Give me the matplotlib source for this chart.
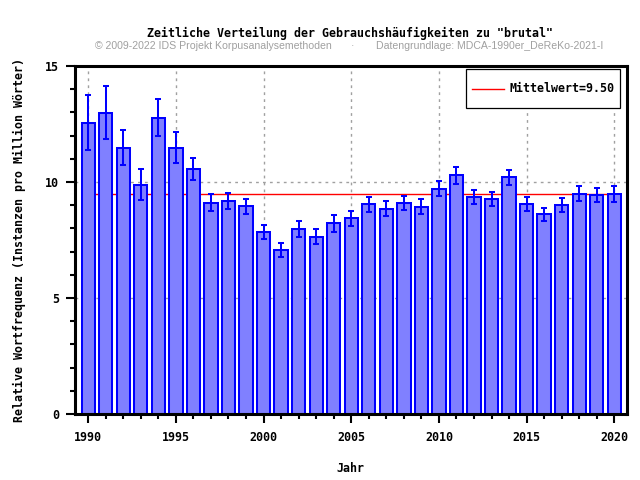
import matplotlib
matplotlib.use("Agg")
import matplotlib.pyplot as plt
from matplotlib.legend_handler import HandlerLine2D
from matplotlib.ticker import MultipleLocator

# Relative Wortfrequenz "brutal" pro Jahr (Instanzen pro Million Wörter)
years = list(range(1990, 2021))
freq = [12.56, 12.99, 11.48, 9.88, 12.77, 11.48, 10.57, 9.11, 9.17, 8.95,
        7.83, 7.08, 7.99, 7.64, 8.22, 8.43, 9.04, 8.85, 9.11, 8.94,
        9.71, 10.29, 9.37, 9.25, 10.20, 9.04, 8.61, 9.00, 9.50, 9.43,
        9.47]
err = [1.19, 1.15, 0.76, 0.67, 0.80, 0.67, 0.48, 0.37, 0.35, 0.33,
       0.30, 0.31, 0.35, 0.32, 0.36, 0.33, 0.33, 0.31, 0.30, 0.31,
       0.33, 0.36, 0.30, 0.30, 0.32, 0.31, 0.29, 0.30, 0.33, 0.30,
       0.35]
mean_value = 9.50

MONO = "DejaVu Sans Mono"
FS = 8.4


class LoweredLine(HandlerLine2D):
    # tall legend box: move the sample line down to the text's middle
    def create_artists(self, legend, orig_handle, xdescent, ydescent,
                       width, height, fontsize, trans):
        arts = super().create_artists(legend, orig_handle, xdescent, ydescent,
                                      width, height, fontsize, trans)
        for a in arts:
            a.set_ydata([y - 0.42 * fontsize for y in a.get_ydata()])
        return arts


fig = plt.figure(figsize=(6.4, 4.8), dpi=100)
ax = fig.add_axes([0.117, 0.1375, 0.862, 0.725])

# Mean line behind the bars
mean_line, = ax.plot([years[0], years[-1]], [mean_value, mean_value], color="#ff0000",
                     linewidth=1.0, zorder=1, label=f"Mittelwert={mean_value:.2f}")

ax.bar(years, freq, width=0.76, color="#8080ff", edgecolor="#0000ff",
       linewidth=1.45, zorder=2)
ax.errorbar(years, freq, yerr=err, fmt="none", ecolor="#0000ff",
            elinewidth=1.45, capsize=2.3, capthick=1.45, zorder=3)

ax.set_xlim(1989.24, 2020.70)
ax.set_ylim(0, 15)
ax.xaxis.set_major_locator(MultipleLocator(5))
ax.xaxis.set_minor_locator(MultipleLocator(1))
ax.yaxis.set_major_locator(MultipleLocator(5))
ax.yaxis.set_minor_locator(MultipleLocator(1))

ax.grid(which="major", color="#a0a0a0", linestyle=(0, (2, 3)), linewidth=1.0, zorder=0)
ax.set_axisbelow(True)

for s in ax.spines.values():
    s.set_linewidth(2.2)
    s.set_color("black")

ax.tick_params(which="major", direction="out", length=6.5, width=1.5)
ax.tick_params(which="minor", direction="out", length=3.5, width=1.5)
ax.tick_params(axis="x", which="major", pad=5.5)
ax.tick_params(axis="y", which="major", pad=5)
for lbl in ax.get_xticklabels() + ax.get_yticklabels():
    lbl.set_fontfamily(MONO)
    lbl.set_fontweight("bold")
    lbl.set_fontsize(FS)

ax.set_xlabel("Jahr", fontfamily=MONO, fontweight="bold", fontsize=FS)
ax.set_ylabel("Relative Wortfrequenz (Instanzen pro Million Wörter)",
              fontfamily=MONO, fontweight="bold", fontsize=FS)
ax.xaxis.set_label_coords(0.5, -0.138)
ax.yaxis.set_label_coords(-0.089, 0.5)

leg = ax.legend(loc="upper right", bbox_to_anchor=(0.989, 0.991),
                prop={"family": MONO, "weight": "bold", "size": FS},
                fancybox=False, framealpha=1, edgecolor="black",
                handlelength=2.74, handletextpad=0.43, handleheight=3.1,
                borderpad=0.55, borderaxespad=0,
                handler_map={mean_line: LoweredLine()})
leg.get_frame().set_linewidth(0.9)

fig.text(0.547, 0.931, 'Zeitliche Verteilung der Gebrauchshäufigkeiten zu "brutal"',
         ha="center", va="center", fontfamily=MONO, fontweight="bold", fontsize=FS)
fig.text(0.333, 0.904, "© 2009-2022 IDS Projekt Korpusanalysemethoden",
         ha="center", va="center", fontfamily="Liberation Sans", fontsize=7.6, color="#a0a0a0")
fig.text(0.55, 0.904, "·", ha="center", va="center",
         fontfamily="Liberation Sans", fontsize=7.6, color="#a0a0a0")
fig.text(0.5875, 0.904, "Datengrundlage: MDCA-1990er_DeReKo-2021-I",
         ha="left", va="center", fontfamily="Liberation Sans", fontsize=7.6, color="#a0a0a0")

fig.savefig("out.png", dpi=100)
